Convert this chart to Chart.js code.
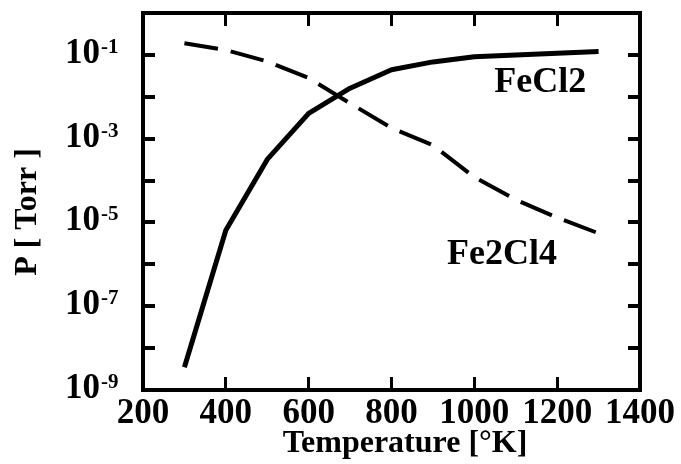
<!DOCTYPE html>
<html>
<head>
<meta charset="utf-8">
<script src="https://cdn.jsdelivr.net/npm/chart.js@4"></script>
<style>
  html, body { margin: 0; padding: 0; background: #fff; }
  canvas { display: block; }
</style>
</head>
<body>
<canvas id="chart" width="681" height="464"></canvas>
<script>
// data
const temps = [300, 400, 500, 600, 700, 800, 900, 1000, 1100, 1200, 1300];
const fecl2 = [3.5e-9, 6.5e-6, 3.2e-4, 4e-3, 1.6e-2, 4.4e-2, 6.8e-2, 9e-2, 1.0e-1, 1.1e-1, 1.2e-1];
const fe2cl4 = [0.19, 0.13, 0.07, 0.028, 7e-3, 1.8e-3, 7e-4, 1.2e-4, 3.5e-5, 1.3e-5, 5.5e-6];

const xTicks = [200, 400, 600, 800, 1000, 1200, 1400];
const yDecades = [0, -1, -2, -3, -4, -5, -6, -7, -8, -9];
const yLabelExps = [-1, -3, -5, -7, -9];

const seriesNames = ['FeCl2', 'Fe2Cl4'];
const nameAtT = [1159, 1067];
const nameAtP = [0.022, 1.7e-6];

const FONT = '"Liberation Serif", "Times New Roman", serif';

const toPoints = (xs, ys) => xs.map((x, i) => ({ x: x, y: ys[i] }));
const decadeTicks = (scale) => {
  scale.ticks = yDecades.map(e => ({ value: Math.pow(10, e) }));
};

const textPlugin = {
  id: 'textPlugin',
  afterDraw(chart) {
    const { ctx, scales } = chart;
    const x = scales.x, y = scales.y;
    ctx.save();
    ctx.fillStyle = '#000';

    // y labels as 10 with a raised exponent
    y.ticks.forEach(t => {
      const exp = Math.round(Math.log10(t.value));
      if (!yLabelExps.includes(exp)) return;
      const py = y.getPixelForValue(t.value);
      ctx.font = 'bold 35px ' + FONT;
      ctx.textAlign = 'right';
      ctx.textBaseline = 'middle';
      ctx.fillText('10', 100, py - 1);
      ctx.font = 'bold 21px ' + FONT;
      ctx.textAlign = 'left';
      ctx.textBaseline = 'top';
      ctx.fillText(String(exp), 101, py - 18);
    });

    // series names inside the plot
    ctx.font = 'bold 36px ' + FONT;
    ctx.textAlign = 'center';
    ctx.textBaseline = 'middle';
    seriesNames.forEach((name, i) => {
      ctx.fillText(name, x.getPixelForValue(nameAtT[i]), y.getPixelForValue(nameAtP[i]));
    });

    // axis titles
    ctx.font = 'bold 32px ' + FONT;
    ctx.textBaseline = 'alphabetic';
    ctx.fillText('Temperature [°K]', 405, 452);

    ctx.translate(36, 212);
    ctx.rotate(-Math.PI / 2);
    ctx.fillText('P [ Torr ]', 0, 0);
    ctx.restore();
  }
};

const frameGrid = (len, w) => ({
  drawOnChartArea: false,
  color: '#000',
  lineWidth: w,
  tickLength: len
});
const frameBorder = { display: true, color: '#000', width: 4 };

new Chart(document.getElementById('chart'), {
  type: 'line',
  data: {
    datasets: [
      {
        label: seriesNames[0],
        data: toPoints(temps, fecl2),
        borderColor: '#000',
        borderWidth: 5,
        borderJoinStyle: 'round',
        pointRadius: 0,
        tension: 0,
        fill: false
      },
      {
        label: seriesNames[1],
        data: toPoints(temps, fe2cl4),
        borderColor: '#000',
        borderWidth: 4,
        borderDash: [34, 13],
        pointRadius: 0,
        tension: 0,
        fill: false
      }
    ]
  },
  options: {
    responsive: false,
    animation: false,
    devicePixelRatio: 1,
    layout: { padding: 0 },
    plugins: {
      legend: { display: false },
      tooltip: { enabled: false }
    },
    scales: {
      x: {
        type: 'linear',
        position: 'bottom',
        min: 200,
        max: 1400,
        afterBuildTicks: (s) => { s.ticks = xTicks.map(v => ({ value: v })); },
        afterFit: (s) => { s.height = 74; s.paddingLeft = 0; s.paddingRight = 0; },
        grid: frameGrid(-13, 3),
        border: frameBorder,
        ticks: {
          color: '#000',
          font: { family: FONT, size: 35, weight: 'bold' },
          padding: 16,
          maxRotation: 0,
          autoSkip: false,
          callback: (v) => String(v)
        }
      },
      x2: {
        type: 'linear',
        position: 'top',
        min: 200,
        max: 1400,
        afterBuildTicks: (s) => { s.ticks = xTicks.map(v => ({ value: v })); },
        afterFit: (s) => { s.height = 13; s.paddingLeft = 0; s.paddingRight = 0; },
        grid: frameGrid(-13, 3),
        border: frameBorder,
        ticks: { display: false }
      },
      y: {
        type: 'logarithmic',
        position: 'left',
        min: 1e-9,
        max: 1,
        afterBuildTicks: decadeTicks,
        afterFit: (s) => { s.width = 143; },
        grid: frameGrid(-12, 4),
        border: frameBorder,
        ticks: { display: false }
      },
      y2: {
        type: 'logarithmic',
        position: 'right',
        min: 1e-9,
        max: 1,
        afterBuildTicks: decadeTicks,
        afterFit: (s) => { s.width = 41; },
        grid: frameGrid(-12, 4),
        border: frameBorder,
        ticks: { display: false }
      }
    }
  },
  plugins: [textPlugin]
});
</script>
</body>
</html>
